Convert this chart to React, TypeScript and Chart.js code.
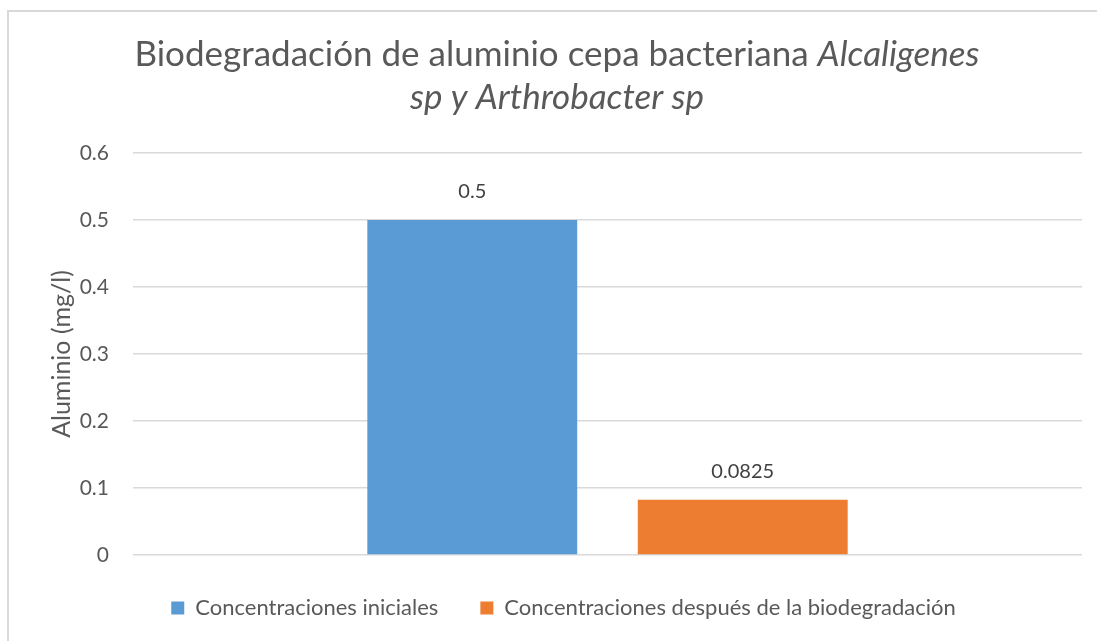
import React, { useEffect, useRef } from "react";
import { Chart, registerables } from "chart.js";

Chart.register(...registerables);

const categories = [""];
const seriesNames = ["Concentraciones iniciales", "Concentraciones después de la biodegradación"];
const initialValues = [0.5];
const afterValues = [0.0825];
const seriesColors = ["#5B9BD5", "#ED7D31"];
const titleLine1Normal = "Biodegradación de aluminio cepa bacteriana ";
const titleLine1Italic = "Alcaligenes";
const titleLine2Italic = "sp y Arthrobacter sp";
const yAxisTitle = "Aluminio (mg/l)";
const yMin = 0;
const yMax = 0.6;
const yStep = 0.1;

const FONT = "Lato, sans-serif";
const TEXT_COLOR = "#595959";

const titlePlugin = {
  id: "mixedTitle",
  afterDraw(chart: any) {
    const ctx = chart.ctx;
    ctx.save();
    ctx.fillStyle = TEXT_COLOR;
    ctx.textBaseline = "alphabetic";
    ctx.textAlign = "left";
    const size = 35;
    const normal = `${size}px ${FONT}`;
    const italic = `italic ${size}px ${FONT}`;
    const cx = 557;
    ctx.font = normal;
    const w1 = ctx.measureText(titleLine1Normal).width;
    ctx.font = italic;
    const w2 = ctx.measureText(titleLine1Italic).width;
    const x = cx - (w1 + w2) / 2;
    ctx.font = normal;
    ctx.fillText(titleLine1Normal, x, 66);
    ctx.font = italic;
    ctx.fillText(titleLine1Italic, x + w1, 66);
    const w3 = ctx.measureText(titleLine2Italic).width;
    ctx.fillText(titleLine2Italic, cx - w3 / 2, 109);
    ctx.restore();
  },
};

const dataLabelPlugin = {
  id: "dataLabels",
  afterDatasetsDraw(chart: any) {
    const ctx = chart.ctx;
    ctx.save();
    ctx.fillStyle = "#404040";
    ctx.font = `20px ${FONT}`;
    ctx.textAlign = "center";
    ctx.textBaseline = "middle";
    chart.data.datasets.forEach((ds: any, i: number) => {
      const meta = chart.getDatasetMeta(i);
      meta.data.forEach((el: any, j: number) => {
        ctx.fillText(String(ds.data[j]), el.x, el.y - 28);
      });
    });
    ctx.restore();
  },
};

export default function App() {
  const ref = useRef<HTMLCanvasElement>(null);
  useEffect(() => {
    if (!ref.current) return;
    const chart = new Chart(ref.current, {
      type: "bar",
      data: {
        labels: categories,
        datasets: [
          { label: seriesNames[0], data: initialValues, backgroundColor: seriesColors[0] },
          { label: seriesNames[1], data: afterValues, backgroundColor: seriesColors[1] },
        ],
      },
      options: {
        animation: false,
        responsive: false,
        maintainAspectRatio: false,
        layout: { padding: { top: 153, left: 45, right: 15, bottom: 12 } },
        datasets: { bar: { categoryPercentage: 0.57, barPercentage: 0.776 } },
        plugins: {
          title: { display: false },
          tooltip: { enabled: false },
          legend: {
            position: "bottom",
            labels: {
              boxWidth: 13,
              boxHeight: 13,
              color: TEXT_COLOR,
              font: { family: FONT, size: 22 },
              padding: 42,
            },
          },
        },
        scales: {
          x: { display: false },
          y: {
            min: yMin,
            max: yMax,
            border: { display: false },
            grid: { color: "#d9d9d9", lineWidth: 1.5, drawTicks: false },
            ticks: {
              stepSize: yStep,
              color: TEXT_COLOR,
              font: { family: FONT, size: 21 },
              padding: 24,
              callback: (v: any) => String(Number(Number(v).toFixed(4))),
            },
            title: {
              display: true,
              text: yAxisTitle,
              color: TEXT_COLOR,
              font: { family: FONT, size: 25 },
              padding: 2,
            },
            afterFit: (s: any) => {
              s.width = 88;
            },
          },
        },
      },
      plugins: [titlePlugin, dataLabelPlugin],
    });
    return () => chart.destroy();
  }, []);

  return (
    <div>
      <div
        style={{
          position: "fixed",
          left: 7,
          top: 10,
          width: 1200,
          height: 800,
          border: "2px solid #d9d9d9",
          background: "#fff",
        }}
      />
      <canvas
        ref={ref}
        width={1097}
        height={641}
        style={{ position: "fixed", left: 0, top: 0, width: 1097, height: 641 }}
      />
    </div>
  );
}
